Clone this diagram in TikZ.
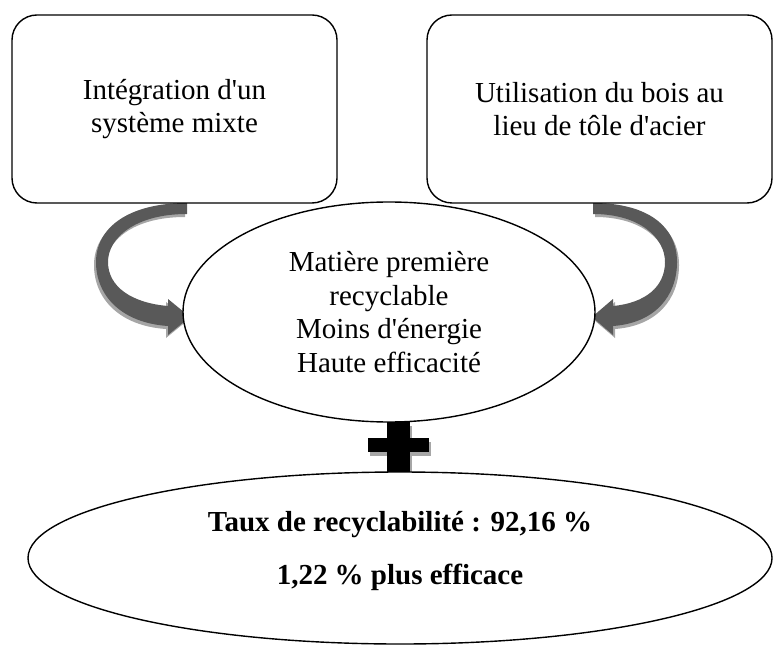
\documentclass[tikz,border=0pt]{standalone}
\usepackage{fontspec}
\setmainfont{Liberation Serif}
\usetikzlibrary{shapes.geometric}
\definecolor{benddark}{HTML}{595959}
\definecolor{bendlight}{HTML}{A6A6A6}

\begin{document}
\begin{tikzpicture}[x=0.5pt, y=-0.5pt,
  box/.style={rectangle, rounded corners=12.5pt, draw=black, line width=0.7pt, fill=white,
              minimum height=94pt, align=center, inner sep=0pt, font=\fontsize{14.5}{16.75}\selectfont},
  oval/.style={ellipse, draw=black, line width=0.7pt, fill=white, inner sep=0pt, align=center,
               font=\fontsize{14.5}{16.75}\selectfont},
  result/.style={align=center, inner sep=0pt, font=\fontsize{14.5}{26.5}\selectfont\bfseries}]
  \useasboundingbox (0,0) rectangle (774,646);
  \foreach \col/\dx/\dy in {bendlight/-2/3, benddark/0/0}
    \fill[\col, shift={(\dx,\dy)}] (187,203) -- (187,214)
      .. controls (135,214) and (108,238) .. (108,262)
      .. controls (108,287) and (132,303) .. (168,306)
      -- (168,299) -- (190,317) -- (168,335) -- (168,326)
      .. controls (122,323) and (96,296) .. (96,262)
      .. controls (96,228) and (128,203) .. (187,203) -- cycle;
  \foreach \col/\dx/\dy in {bendlight/2/3, benddark/0/0}
    \fill[\col, shift={(\dx,\dy)}] (593,203) -- (593,214)
      .. controls (640,214) and (665,238) .. (665,262)
      .. controls (665,287) and (645,303) .. (613,306)
      -- (613,299) -- (592,317) -- (613,335) -- (613,326)
      .. controls (655,323) and (677,296) .. (677,262)
      .. controls (677,228) and (650,203) .. (593,203) -- cycle;
  \node[box, minimum width=162.5pt] (mixte) at (174.5,109) {Intégration d\textquotesingle un\\ système mixte};
  \node[box, minimum width=172.5pt] (bois) at (599.5,109) {Utilisation du bois au\\ lieu de tôle d\textquotesingle acier};
  \node[oval, minimum width=206pt, minimum height=110pt] (gain) at (389,312)
    {Matière première\\ recyclable\\ Moins d\textquotesingle énergie\\ Haute efficacité};
  \foreach \col/\dx/\dy in {bendlight/1.5/4, black/0/0} {
    \fill[\col, shift={(\dx,\dy)}] (387,422) rectangle (410,472);
    \fill[\col, shift={(\dx,\dy)}] (368,438) rectangle (429,452);
  }
  \node[oval, minimum width=372pt, minimum height=86pt] (taux) at (400,558) {};
  \node[result] (bilan) at (400,551.5) {Taux de recyclabilité : 92,16 \%\\ 1,22 \% plus efficace};
\end{tikzpicture}
\end{document}
